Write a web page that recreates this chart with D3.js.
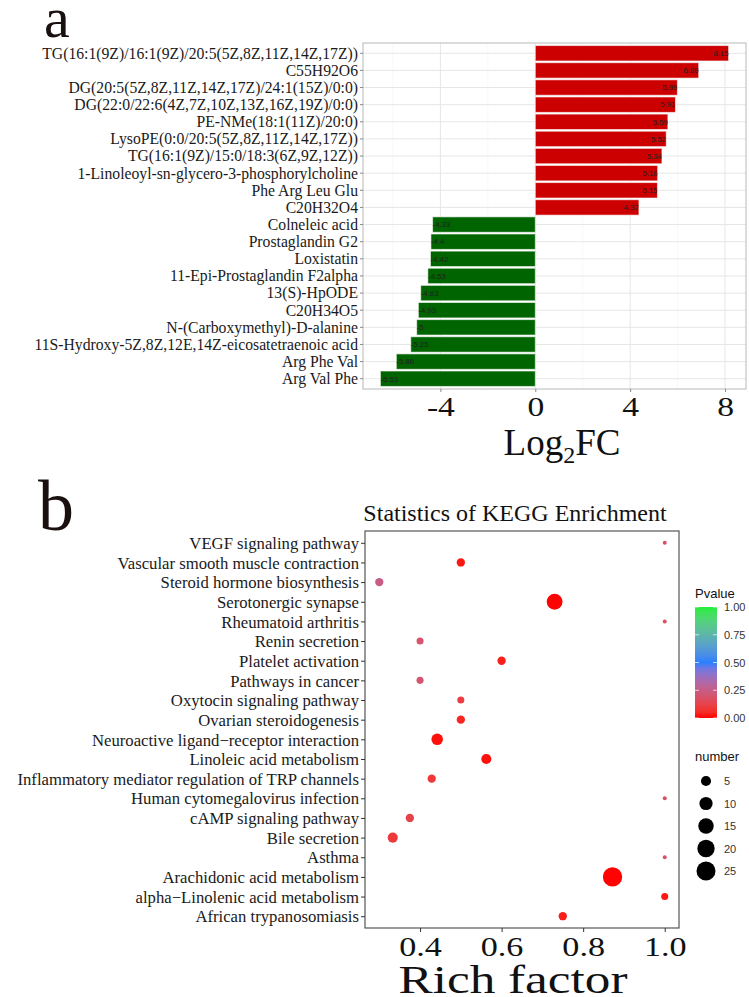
<!DOCTYPE html>
<html>
<head>
<meta charset="utf-8">
<script src="https://cdn.jsdelivr.net/npm/d3@7"></script>
<style>
  body { margin: 0; background: #fff; }
  text { font-family: "Liberation Serif", "Times New Roman", serif; }
  .sans { font-family: "Liberation Sans", Arial, sans-serif; }
</style>
</head>
<body>
<div id="canvas"></div>
<script>
// ---- panel a: log2 fold change per metabolite (top to bottom)
var metabolites = [
  "TG(16:1(9Z)/16:1(9Z)/20:5(5Z,8Z,11Z,14Z,17Z))",
  "C55H92O6",
  "DG(20:5(5Z,8Z,11Z,14Z,17Z)/24:1(15Z)/0:0)",
  "DG(22:0/22:6(4Z,7Z,10Z,13Z,16Z,19Z)/0:0)",
  "PE-NMe(18:1(11Z)/20:0)",
  "LysoPE(0:0/20:5(5Z,8Z,11Z,14Z,17Z))",
  "TG(16:1(9Z)/15:0/18:3(6Z,9Z,12Z))",
  "1-Linoleoyl-sn-glycero-3-phosphorylcholine",
  "Phe Arg Leu Glu",
  "C20H32O4",
  "Colneleic acid",
  "Prostaglandin G2",
  "Loxistatin",
  "11-Epi-Prostaglandin F2alpha",
  "13(S)-HpODE",
  "C20H34O5",
  "N-(Carboxymethyl)-D-alanine",
  "11S-Hydroxy-5Z,8Z,12E,14Z-eicosatetraenoic acid",
  "Arg Phe Val",
  "Arg Val Phe"
];
var log2fc = [8.15, 6.89, 5.99, 5.91, 5.59, 5.52, 5.34, 5.16, 5.15, 4.37,
              -4.33, -4.4, -4.42, -4.53, -4.83, -4.93, -5, -5.25, -5.86, -6.53];
var fcTicks = [-4, 0, 4, 8];
var fcMinor = [-6, -2, 2, 6];

// ---- panel b: KEGG enrichment (top to bottom)
var pathways = [
  "VEGF signaling pathway",
  "Vascular smooth muscle contraction",
  "Steroid hormone biosynthesis",
  "Serotonergic synapse",
  "Rheumatoid arthritis",
  "Renin secretion",
  "Platelet activation",
  "Pathways in cancer",
  "Oxytocin signaling pathway",
  "Ovarian steroidogenesis",
  "Neuroactive ligand\u2212receptor interaction",
  "Linoleic acid metabolism",
  "Inflammatory mediator regulation of TRP channels",
  "Human cytomegalovirus infection",
  "cAMP signaling pathway",
  "Bile secretion",
  "Asthma",
  "Arachidonic acid metabolism",
  "alpha\u2212Linolenic acid metabolism",
  "African trypanosomiasis"
];
var richFactor = [1.0, 0.5, 0.3, 0.73, 1.0, 0.4, 0.6, 0.4, 0.5, 0.5,
                  0.442, 0.5625, 0.4286, 1.0, 0.375, 0.333, 1.0, 0.872, 1.0, 0.75];
var pvalue = [0.17, 0.02, 0.25, 0.002, 0.17, 0.2, 0.03, 0.2, 0.1, 0.04,
              0.01, 0.01, 0.08, 0.17, 0.12, 0.09, 0.17, 0.001, 0.02, 0.03];
var geneNumber = [1, 3, 3, 16, 1, 2, 3, 2, 2, 3,
                  7, 5, 3, 1, 3, 5, 1, 26, 2, 3];
var richTicks = [0.4, 0.6, 0.8, 1.0];
var pTicks = [0, 0.25, 0.5, 0.75, 1];
var numberTicks = [5, 10, 15, 20, 25];

var W = 749, H = 997;
var svg = d3.select('#canvas').append('svg').attr('width', W).attr('height', H);

// ================= panel a =================
var a = {left: 363, right: 746, top: 43, bottom: 389};
var xa = d3.scaleLinear().domain([-7.264, 8.884]).range([a.left, a.right]);
var ya = d3.scaleBand().domain(metabolites).range([a.top, a.bottom]).paddingInner(0.1).paddingOuter(0.15);

svg.append('text').attr('x', 44).attr('y', 37).attr('font-size', 58).attr('fill', '#1a1010').text('a');

var ga = svg.append('g');
ga.append('rect').attr('x', a.left).attr('y', a.top).attr('width', a.right - a.left).attr('height', a.bottom - a.top)
  .attr('fill', '#fff');
// grid
ga.selectAll('.minor').data(fcMinor).enter().append('line')
  .attr('x1', d => xa(d)).attr('x2', d => xa(d)).attr('y1', a.top).attr('y2', a.bottom)
  .attr('stroke', '#f2f2f2').attr('stroke-width', 0.6);
ga.selectAll('.major').data(fcTicks).enter().append('line')
  .attr('x1', d => xa(d)).attr('x2', d => xa(d)).attr('y1', a.top).attr('y2', a.bottom)
  .attr('stroke', '#e6e6e6').attr('stroke-width', 1);
ga.selectAll('.hgrid').data(metabolites).enter().append('line')
  .attr('x1', a.left).attr('x2', a.right)
  .attr('y1', d => ya(d) + ya.bandwidth() / 2).attr('y2', d => ya(d) + ya.bandwidth() / 2)
  .attr('stroke', '#e6e6e6').attr('stroke-width', 1);

// bars
var barData = metabolites.map((m, i) => ({name: m, v: log2fc[i]}));
ga.selectAll('.bar').data(barData).enter().append('rect')
  .attr('x', d => xa(Math.min(0, d.v))).attr('y', d => ya(d.name))
  .attr('width', d => Math.abs(xa(d.v) - xa(0))).attr('height', ya.bandwidth())
  .attr('fill', d => d.v > 0 ? '#cc0000' : '#006400')
  .attr('stroke', '#fff').attr('stroke-opacity', 0.6).attr('stroke-width', 1);
ga.selectAll('.vlab').data(barData).enter().append('text').attr('class', 'sans')
  .attr('x', d => xa(d.v)).attr('y', d => ya(d.name) + ya.bandwidth() / 2 + 2.8)
  .attr('text-anchor', d => d.v > 0 ? 'end' : 'start')
  .attr('font-size', 7.8).attr('fill', '#222').text(d => String(d.v));

ga.append('rect').attr('x', a.left).attr('y', a.top).attr('width', a.right - a.left).attr('height', a.bottom - a.top)
  .attr('fill', 'none').attr('stroke', '#b8b8b8').attr('stroke-width', 1);

// axes
var yAxA = ga.append('g').attr('transform', 'translate(' + a.left + ',0)')
  .call(d3.axisLeft(ya).tickSize(3).tickPadding(2));
yAxA.select('.domain').remove();
yAxA.selectAll('line').attr('stroke', '#888');
yAxA.selectAll('text').attr('font-size', 15.7).attr('fill', '#1a1a1a').attr('dy', '0.34em')
  .style('font-family', '"Liberation Serif", serif');

var xAxA = ga.append('g').attr('transform', 'translate(0,' + a.bottom + ')')
  .call(d3.axisBottom(xa).tickValues(fcTicks).tickSize(3).tickPadding(3).tickFormat(d => String(d)));
xAxA.select('.domain').remove();
xAxA.selectAll('line').attr('stroke', '#888');
xAxA.selectAll('text').attr('font-size', 28).attr('fill', '#111').attr('dy', '0.76em')
  .attr('transform', 'scale(1.2,1)')
  .style('font-family', '"Liberation Serif", serif');

var xt = svg.append('text').attr('x', 562).attr('y', 455).attr('text-anchor', 'middle').attr('font-size', 37).attr('fill', '#111');
xt.append('tspan').text('Log');
xt.append('tspan').attr('font-size', 24).attr('dy', 8).text('2');
xt.append('tspan').attr('dy', -8).text('FC');

// ================= panel b =================
var b = {left: 365, right: 679, top: 531, bottom: 928};
var xb = d3.scaleLinear().domain([0.265, 1.035]).range([b.left, b.right]);
var yb = d3.scalePoint().domain(pathways).range([b.top, b.bottom]).padding(0.6);
var color = d3.scaleLinear().domain([0, 0.5, 1]).range(['#ff0000', '#2a7fff', '#22ee3a']).interpolate(d3.interpolateLab);
var sizeT = d3.scaleLinear().domain([1, 26]).range([0, 1]);
var diam = d3.scaleLinear().domain([0, 1]).range([4, 19.3]);
var radius = n => diam(Math.sqrt(sizeT(n))) / 2;

svg.append('text').attr('x', 38).attr('y', 530).attr('font-size', 72).attr('fill', '#1a1010').text('b');
svg.append('text').attr('x', 515).attr('y', 521).attr('text-anchor', 'middle').attr('font-size', 24).attr('fill', '#111')
  .text('Statistics of KEGG Enrichment');

var gb = svg.append('g');
var dots = pathways.map((p, i) => ({name: p, x: richFactor[i], p: pvalue[i], n: geneNumber[i]}));
gb.selectAll('.dot').data(dots).enter().append('circle')
  .attr('cx', d => xb(d.x)).attr('cy', d => yb(d.name)).attr('r', d => radius(d.n))
  .attr('fill', d => color(d.p));
gb.append('rect').attr('x', b.left).attr('y', b.top).attr('width', b.right - b.left).attr('height', b.bottom - b.top)
  .attr('fill', 'none').attr('stroke', '#555').attr('stroke-width', 1.2);

var yAxB = gb.append('g').attr('transform', 'translate(' + b.left + ',0)')
  .call(d3.axisLeft(yb).tickSize(4).tickPadding(2));
yAxB.select('.domain').remove();
yAxB.selectAll('line').attr('stroke', '#333');
yAxB.selectAll('text').attr('font-size', 16.7).attr('fill', '#1a1a1a').attr('dy', '0.34em')
  .style('font-family', '"Liberation Serif", serif');

var xAxB = gb.append('g').attr('transform', 'translate(0,' + b.bottom + ')')
  .call(d3.axisBottom(xb).tickValues(richTicks).tickSize(4).tickPadding(3).tickFormat(d3.format('.1f')));
xAxB.select('.domain').remove();
xAxB.selectAll('line').attr('stroke', '#333');
xAxB.selectAll('text').attr('font-size', 28).attr('fill', '#111').attr('dy', '0.76em')
  .attr('transform', 'scale(1.22,1)')
  .style('font-family', '"Liberation Serif", serif');

svg.append('text').attr('transform', 'translate(513,993) scale(1.28,1)').attr('text-anchor', 'middle')
  .attr('font-size', 40).attr('fill', '#111').text('Rich factor');

// legend: Pvalue colourbar
var lg = svg.append('g').attr('class', 'sans');
lg.append('text').attr('class', 'sans').attr('x', 695).attr('y', 598).attr('font-size', 13).attr('fill', '#111').text('Pvalue');
var cb = {x: 695, w: 22, top: 607, bottom: 718};
var yc = d3.scaleLinear().domain([0, 1]).range([cb.bottom, cb.top]);
var grad = svg.append('defs').append('linearGradient').attr('id', 'pgrad')
  .attr('x1', 0).attr('y1', 1).attr('x2', 0).attr('y2', 0);
grad.selectAll('stop').data(d3.range(0, 1.001, 0.05)).enter().append('stop')
  .attr('offset', d => d).attr('stop-color', d => color(d));
lg.append('rect').attr('x', cb.x).attr('y', cb.top).attr('width', cb.w).attr('height', cb.bottom - cb.top).attr('fill', 'url(#pgrad)');
lg.selectAll('.ctl').data(pTicks).enter().append('g').each(function(d) {
  var g = d3.select(this);
  g.append('line').attr('x1', cb.x).attr('x2', cb.x + 4).attr('y1', yc(d)).attr('y2', yc(d)).attr('stroke', '#fff').attr('stroke-opacity', 0.7);
  g.append('line').attr('x1', cb.x + cb.w - 4).attr('x2', cb.x + cb.w).attr('y1', yc(d)).attr('y2', yc(d)).attr('stroke', '#fff').attr('stroke-opacity', 0.7);
  g.append('text').attr('class', 'sans').attr('x', 724).attr('y', yc(d) + 4).attr('font-size', 11).attr('fill', '#333')
    .text(d3.format('.2f')(d));
});

// legend: number sizes
lg.append('text').attr('class', 'sans').attr('x', 695).attr('y', 761).attr('font-size', 13).attr('fill', '#111').text('number');
var ys = d3.scalePoint().domain(numberTicks).range([781, 871]);
lg.selectAll('.sz').data(numberTicks).enter().append('circle')
  .attr('cx', 706).attr('cy', d => ys(d)).attr('r', d => radius(d)).attr('fill', '#000');
lg.selectAll('.szl').data(numberTicks).enter().append('text').attr('class', 'sans')
  .attr('x', 724).attr('y', d => ys(d) + 4).attr('font-size', 11).attr('fill', '#333').text(d => d);
</script>
</body>
</html>
